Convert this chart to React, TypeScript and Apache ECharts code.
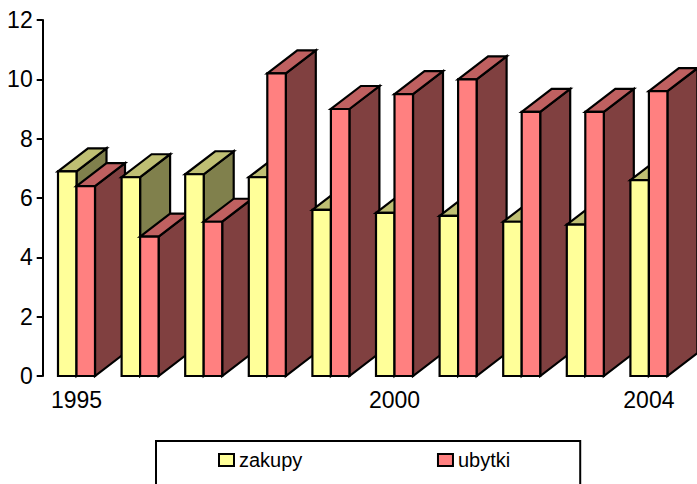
import React, { useEffect, useRef } from "react";
import * as echarts from "echarts";

const years = ["1995", "1996", "1997", "1998", "1999", "2000", "2001", "2002", "2003", "2004"];
const zakupy = [6.9, 6.7, 6.8, 6.7, 5.6, 5.5, 5.4, 5.2, 5.1, 6.6];
const ubytki = [6.4, 4.7, 5.2, 10.2, 9.0, 9.5, 10.0, 8.9, 8.9, 9.6];
const shownYears = ["1995", "2000", "2004"];

const BAR_W = 18.5;
const DEPTH_X = 30;
const DEPTH_Y = -23;

function make3DRender(side: number, front: string, top: string, sideC: string, zOff: number) {
  return (params: any, api: any) => {
    const idx = api.value(0);
    const val = api.value(1);
    const p = api.coord([idx, val]);
    const b = api.coord([idx, 0]);
    const x0 = side < 0 ? p[0] - BAR_W : p[0];
    const yt = p[1];
    const yb = b[1];
    const x1 = x0 + BAR_W;
    const z = idx * 10 + zOff;
    const stroke = { stroke: "#000", lineWidth: 2.2, lineJoin: "miter" };
    return {
      type: "group",
      children: [
        {
          type: "polygon",
          z2: z + 1,
          shape: {
            points: [
              [x1, yt],
              [x1 + DEPTH_X, yt + DEPTH_Y],
              [x1 + DEPTH_X, yb + DEPTH_Y],
              [x1, yb],
            ],
          },
          style: { fill: sideC, ...stroke },
        },
        {
          type: "polygon",
          z2: z + 2,
          shape: {
            points: [
              [x0, yt],
              [x1, yt],
              [x1 + DEPTH_X, yt + DEPTH_Y],
              [x0 + DEPTH_X, yt + DEPTH_Y],
            ],
          },
          style: { fill: top, ...stroke },
        },
        {
          type: "rect",
          z2: z + 3,
          shape: { x: x0, y: yt, width: BAR_W, height: yb - yt },
          style: { fill: front, ...stroke },
        },
      ],
    };
  };
}

export default function App() {
  const ref = useRef<HTMLDivElement>(null);
  useEffect(() => {
    if (!ref.current) return;
    const chart = echarts.init(ref.current, undefined, { renderer: "svg" });
    const font = "'Liberation Sans', Arial, sans-serif";
    chart.setOption({
      animation: false,
      grid: { left: 44.7, right: 16.3, top: 20, bottom: 108, containLabel: false },
      legend: {
        left: 156,
        top: 441,
        orient: "horizontal",
        icon: "rect",
        itemWidth: 15,
        itemHeight: 12,
        itemGap: 134.6,
        padding: [9, 70, 30, 62],
        borderColor: "#000",
        borderWidth: 2,
        backgroundColor: "#fff",
        itemStyle: { borderColor: "#000", borderWidth: 2 },
        textStyle: { fontFamily: font, fontSize: 20, color: "#000" },
        data: ["zakupy", "ubytki"],
      },
      xAxis: {
        type: "category",
        data: years,
        axisLine: { show: false },
        axisTick: { show: false },
        splitLine: { show: false },
        axisLabel: {
          interval: 0,
          formatter: (v: string) => (shownYears.includes(v) ? v : ""),
          fontFamily: font,
          fontSize: 23,
          color: "#000",
          margin: 12,
        },
      },
      yAxis: {
        type: "value",
        min: 0,
        max: 12,
        interval: 2,
        offset: 2,
        axisLine: { show: true, lineStyle: { color: "#000", width: 2 } },
        axisTick: { show: true, length: 6, lineStyle: { color: "#000", width: 2 } },
        splitLine: { show: false },
        axisLabel: { fontFamily: font, fontSize: 23, color: "#000", margin: 10 },
      },
      series: [
        {
          name: "zakupy",
          type: "custom",
          renderItem: make3DRender(-1, "#FFFF99", "#BFBF73", "#80804C", 0),
          itemStyle: { color: "#FFFF99", borderColor: "#000", borderWidth: 2 },
          encode: { x: 0, y: 1 },
          data: zakupy.map((v, i) => [i, v]),
        },
        {
          name: "ubytki",
          type: "custom",
          renderItem: make3DRender(1, "#FF8080", "#BF6060", "#804040", 5),
          itemStyle: { color: "#FF8080", borderColor: "#000", borderWidth: 2 },
          encode: { x: 0, y: 1 },
          data: ubytki.map((v, i) => [i, v]),
        },
      ],
    });
    return () => chart.dispose();
  }, []);
  return (
    <div
      ref={ref}
      style={{ position: "absolute", left: 0, top: 0, width: 697, height: 484, background: "#fff" }}
    />
  );
}
